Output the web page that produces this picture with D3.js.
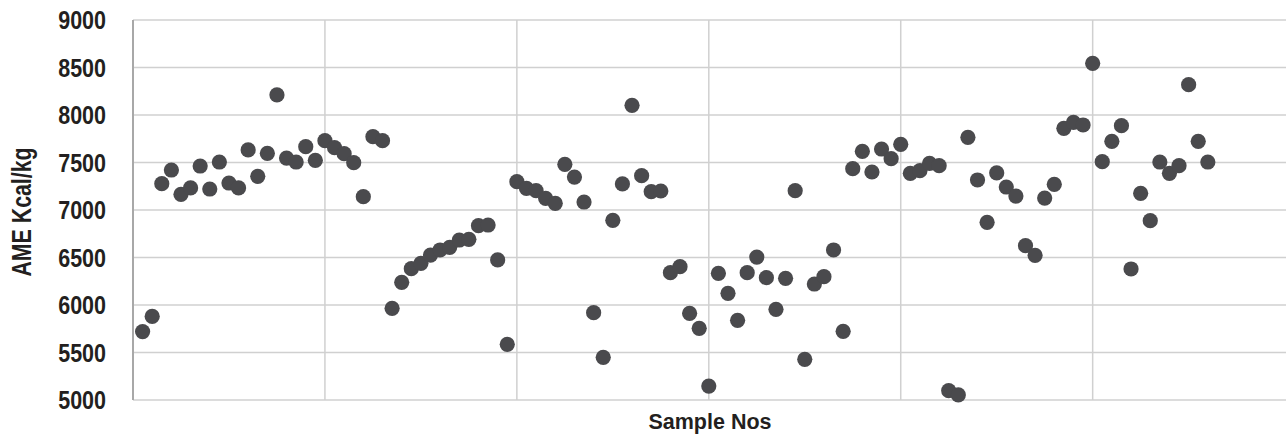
<!DOCTYPE html>
<html>
<head>
<meta charset="utf-8">
<script src="https://cdn.jsdelivr.net/npm/d3@7"></script>
<style>
  html, body { margin: 0; padding: 0; background: #fff; }
  svg text { font-family: "Liberation Sans", Arial, sans-serif; font-weight: bold; fill: #231f20; }
</style>
</head>
<body>
<div id="chart"></div>
<script>
// AME values for samples 1..112
const ame = [
  5720, 5880, 7277, 7421, 7165, 7232, 7463, 7221, 7505, 7284,
  7232, 7632, 7354, 7597, 8211, 7547, 7505, 7667, 7523, 7730,
  7656, 7593, 7498, 7140, 7772, 7730, 5965, 6239, 6382, 6439,
  6526, 6579, 6607, 6684, 6691, 6835, 6842, 6474, 5586, 7298,
  7228, 7203, 7123, 7070, 7481, 7347, 7084, 5919, 5449, 6891,
  7274, 8102, 7361, 7193, 7200, 6340, 6403, 5912, 5754, 5147,
  6333, 6123, 5839, 6340, 6505, 6288, 5954, 6281, 7203, 5428,
  6221, 6298, 6579, 5723, 7435, 7618, 7400, 7642, 7540, 7691,
  7386, 7414, 7491, 7467, 5098, 5053, 7765, 7316, 6870, 7390,
  7242, 7147, 6624, 6523, 7126, 7270, 7860, 7923, 7895, 8544,
  7509, 7723, 7888, 6379, 7176, 6888, 7505, 7386, 7467, 8319,
  7723, 7505
];
const samples = ame.map((_, i) => i + 1);
const yTicks = [5000, 5500, 6000, 6500, 7000, 7500, 8000, 8500, 9000];
const xTicks = [0, 20, 40, 60, 80, 100, 120];

const W = 1286, H = 437;
const plotLeft = 133, plotTop = 20, plotBottom = 400;

const svg = d3.select('#chart').append('svg')
  .attr('width', W).attr('height', H);

const x = d3.scaleLinear().domain([0, 120]).range([plotLeft, 1284.6]);
const y = d3.scaleLinear().domain([5000, 9000]).range([plotBottom, plotTop]);

// horizontal gridlines
svg.append('g')
  .selectAll('line')
  .data(yTicks)
  .enter().append('line')
  .attr('x1', plotLeft).attr('x2', W)
  .attr('y1', d => y(d)).attr('y2', d => y(d))
  .attr('stroke', '#d0d0d0')
  .attr('stroke-width', 1.5);

// vertical gridlines
svg.append('g')
  .selectAll('line')
  .data(xTicks.filter(d => d > 0 && d < 120))
  .enter().append('line')
  .attr('x1', d => x(d)).attr('x2', d => x(d))
  .attr('y1', plotTop).attr('y2', plotBottom)
  .attr('stroke', '#d0d0d0')
  .attr('stroke-width', 1.5);

// left axis line
svg.append('line')
  .attr('x1', plotLeft).attr('x2', plotLeft)
  .attr('y1', plotTop).attr('y2', plotBottom)
  .attr('stroke', '#a8a8a8')
  .attr('stroke-width', 2);

// y tick labels (condensed look)
svg.append('g')
  .selectAll('text')
  .data(yTicks)
  .enter().append('text')
  .attr('transform', d => `translate(106,${y(d)}) scale(0.86,1)`)
  .attr('dy', '0.36em')
  .attr('text-anchor', 'end')
  .style('font-size', '25px')
  .text(d => d);

// points
svg.append('g')
  .selectAll('circle')
  .data(samples)
  .enter().append('circle')
  .attr('cx', d => x(d))
  .attr('cy', (d, i) => y(ame[i]))
  .attr('r', 7.6)
  .attr('fill', '#4a4a4d');

// axis titles
svg.append('text')
  .attr('transform', `translate(31,${(plotTop + plotBottom) / 2 + 2}) rotate(-90) scale(0.79,1)`)
  .attr('text-anchor', 'middle')
  .style('font-size', '27px')
  .text('AME Kcal/kg');

svg.append('text')
  .attr('x', 710)
  .attr('y', 429)
  .attr('text-anchor', 'middle')
  .style('font-size', '21.5px')
  .text('Sample Nos');
</script>
</body>
</html>
